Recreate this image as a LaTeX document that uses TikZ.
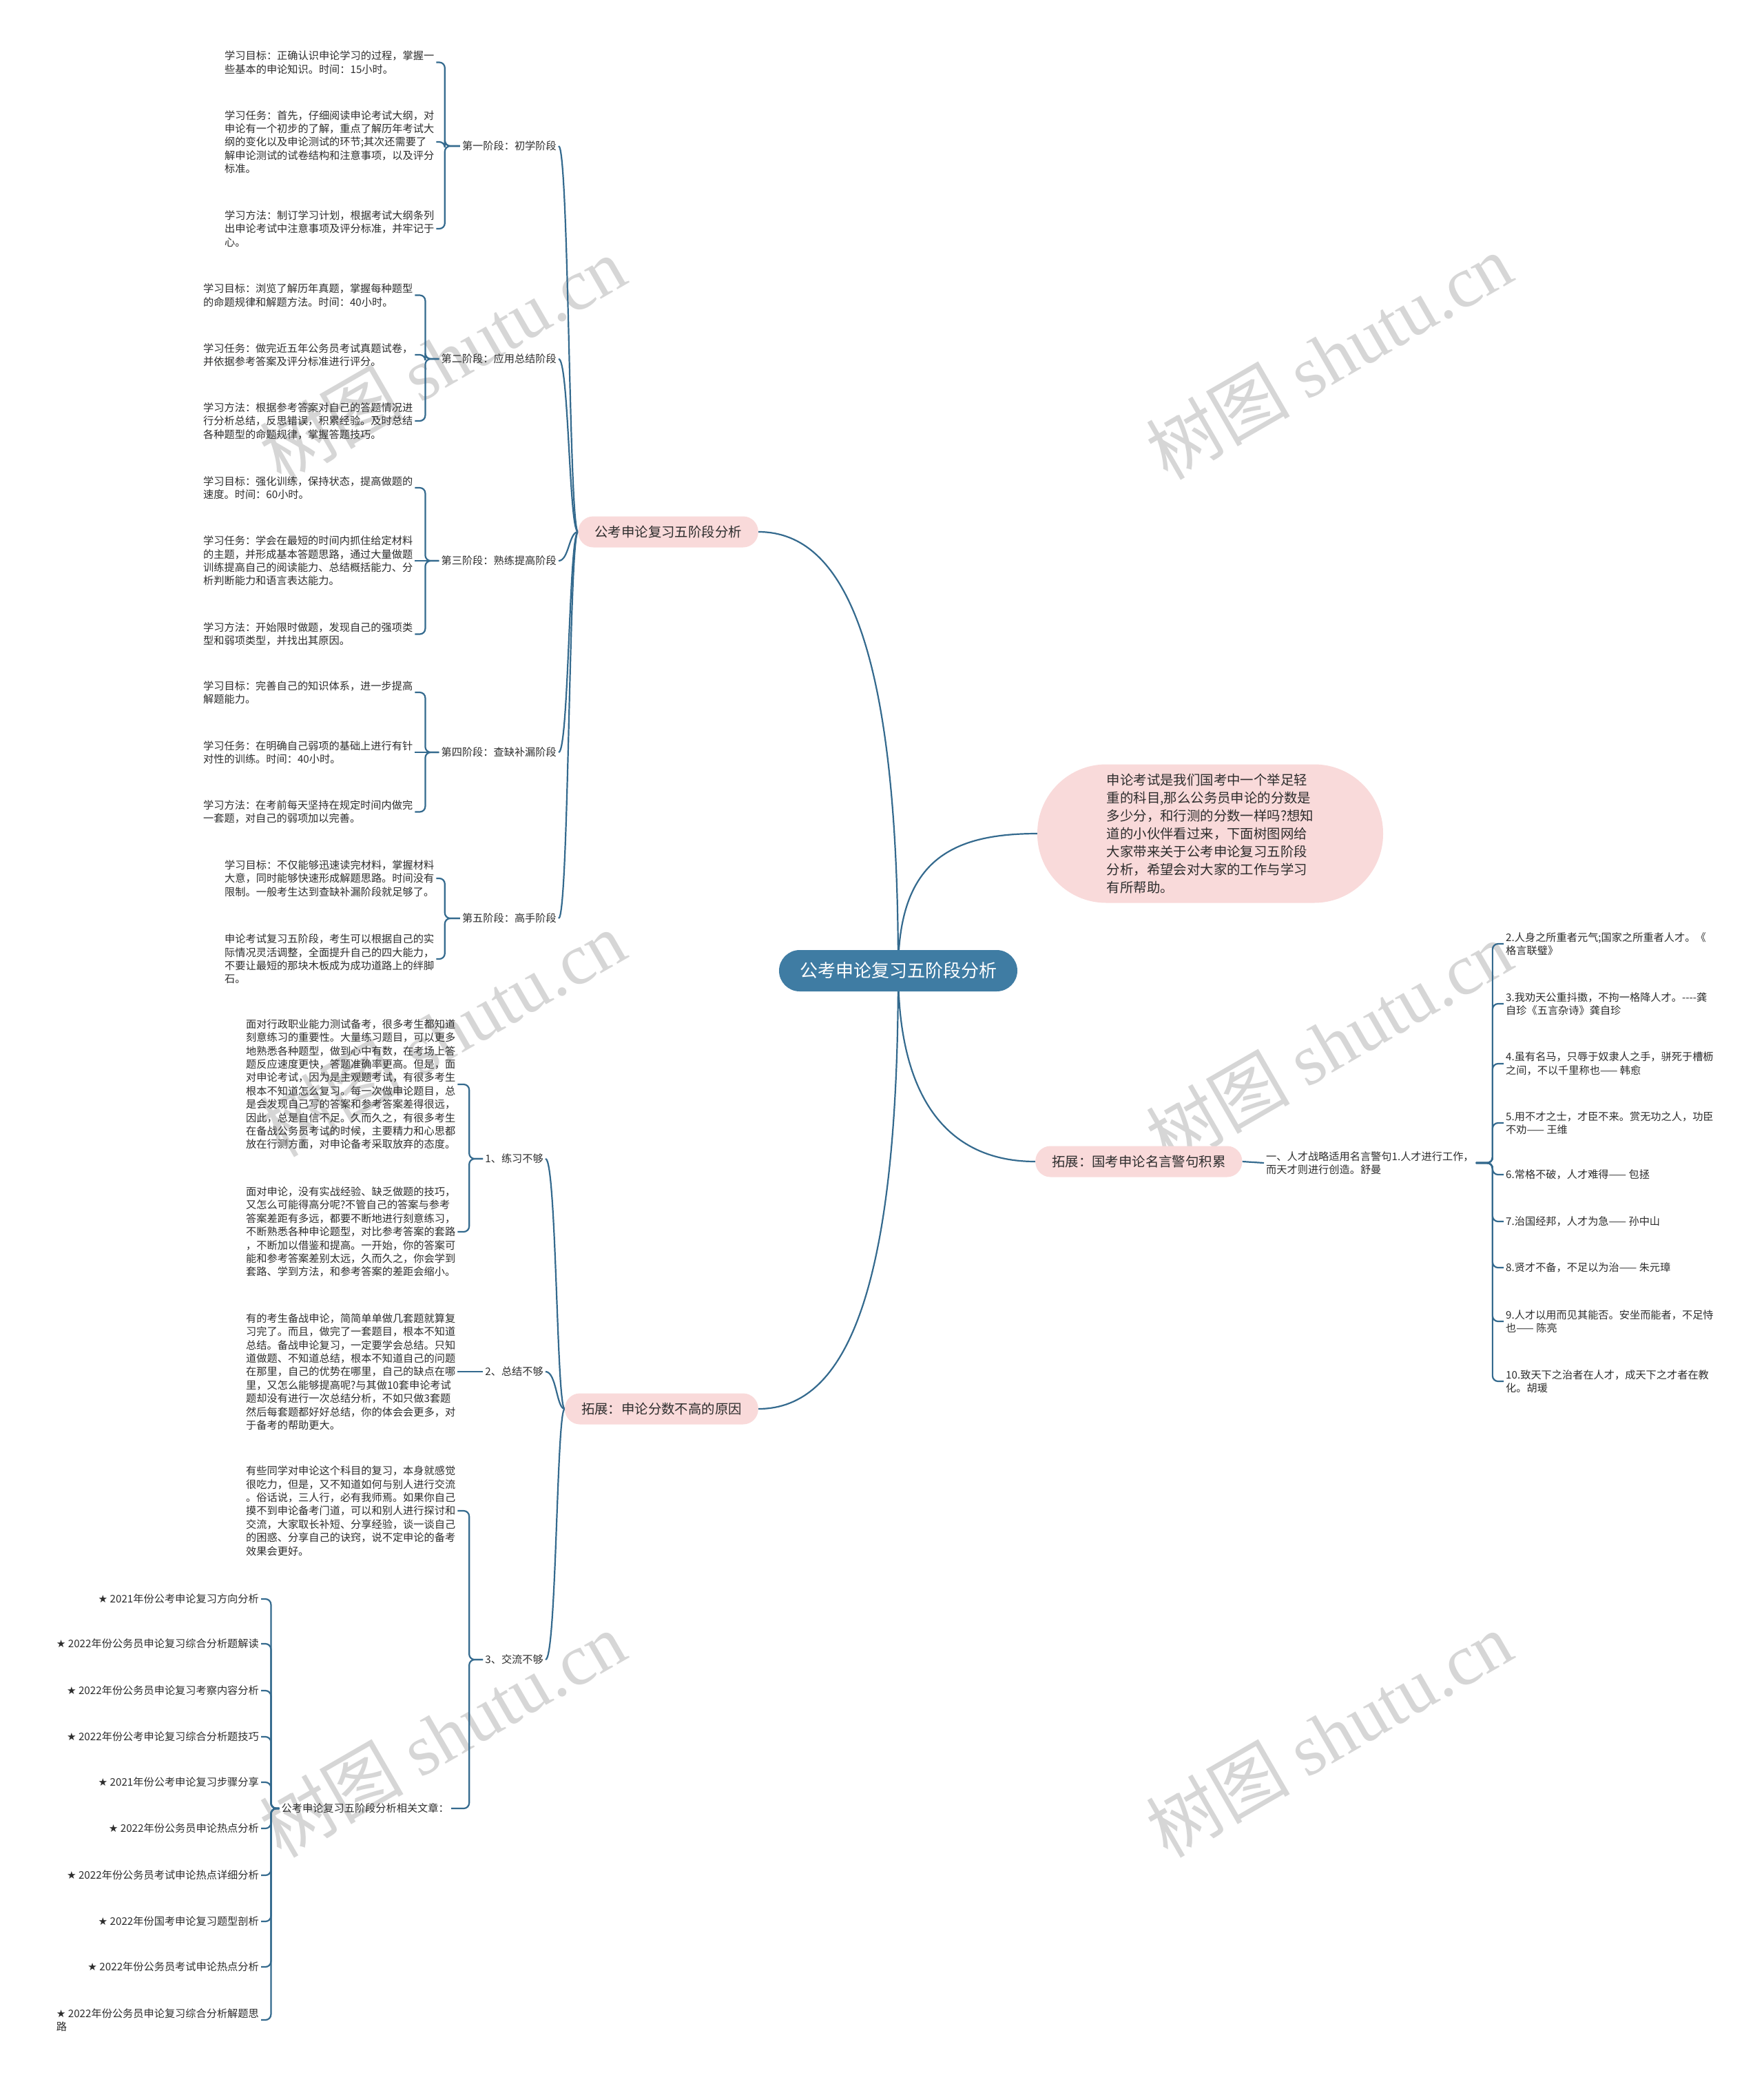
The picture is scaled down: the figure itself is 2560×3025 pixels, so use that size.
\documentclass[tikz,border=0pt]{standalone}
\usepackage{fontspec}
\setmainfont{Noto Sans CJK SC}
\newfontfamily\starfont{DejaVu Sans}
\newfontfamily\wmfont{Liberation Serif}
\usetikzlibrary{backgrounds}
\definecolor{linkblue}{RGB}{52,106,142}
\definecolor{rootblue}{RGB}{63,124,163}
\definecolor{pinkfill}{RGB}{249,218,218}
\definecolor{txtgray}{RGB}{45,45,45}
\definecolor{wmgray}{RGB}{214,214,214}
\newcommand{\fsmall}{\fontsize{15.2}{19.4}\selectfont}
\newcommand{\fmid}{\fontsize{19.4}{26}\selectfont}
\newcommand{\fbig}{\fontsize{26}{30}\selectfont}
\newcommand{\st}{{\starfont ★}}

\begin{document}
\begin{tikzpicture}[x=1pt,y=-1pt,
  link/.style={draw=linkblue, line width=2.2pt},
  bracket/.style={link, rounded corners=8pt},
  rootnode/.style={fill=rootblue, text=white, rounded corners=30pt, minimum height=60pt, inner xsep=30pt, font=\fbig},
  pinkbox/.style={fill=pinkfill, text=txtgray, rounded corners=22pt, minimum height=45pt, inner xsep=24pt, font=\fmid},
  para/.style={align=left, font=\fsmall, text=txtgray, inner sep=3pt, anchor=west},
  tag/.style={font=\fsmall, text=txtgray, inner sep=3pt},
  wm/.style={text=wmgray, font=\fontsize{105}{110}\selectfont, rotate=30}]
\useasboundingbox (0,0) rectangle (2560,3025);

\node[rootnode] (c) at (1304,1409) {公考申论复习五阶段分析};
\node[pinkbox, anchor=east] (b1) at (1101,772) {公考申论复习五阶段分析};
\node[pinkbox, rounded corners=100pt, minimum width=502pt, minimum height=201pt, align=left] (b2) at (1757,1210) {申论考试是我们国考中一个举足轻\\重的科目,那么公务员申论的分数是\\多少分，和行测的分数一样吗?想知\\道的小伙伴看过来，下面树图网给\\大家带来关于公考申论复习五阶段\\分析，希望会对大家的工作与学习\\有所帮助。};
\node[pinkbox, anchor=west] (b3) at (1503,1686) {拓展：国考申论名言警句积累};
\node[pinkbox, anchor=east] (b4) at (1101,2045) {拓展：申论分数不高的原因};

\node[tag, anchor=east] (s1) at (811,212) {第一阶段：初学阶段};
\node[tag, anchor=east] (s2) at (811,521) {第二阶段：应用总结阶段};
\node[tag, anchor=east] (s3) at (811,814) {第三阶段：熟练提高阶段};
\node[tag, anchor=east] (s4) at (811,1092) {第四阶段：查缺补漏阶段};
\node[tag, anchor=east] (s5) at (811,1333) {第五阶段：高手阶段};

\node[para] (t11) at (323,90.5) {学习目标：正确认识申论学习的过程，掌握一\\些基本的申论知识。时间：15小时。};
\node[para] (t12) at (323,206) {学习任务：首先，仔细阅读申论考试大纲，对\\申论有一个初步的了解，重点了解历年考试大\\纲的变化以及申论测试的环节;其次还需要了\\解申论测试的试卷结构和注意事项，以及评分\\标准。};
\node[para] (t13) at (323,332) {学习方法：制订学习计划，根据考试大纲条列\\出申论考试中注意事项及评分标准，并牢记于\\心。};
\node[para] (t21) at (292,428.5) {学习目标：浏览了解历年真题，掌握每种题型\\的命题规律和解题方法。时间：40小时。};
\node[para] (t22) at (292,515) {学习任务：做完近五年公务员考试真题试卷，\\并依据参考答案及评分标准进行评分。};
\node[para] (t23) at (292,611) {学习方法：根据参考答案对自己的答题情况进\\行分析总结，反思错误，积累经验。及时总结\\各种题型的命题规律，掌握答题技巧。};
\node[para] (t31) at (292,708) {学习目标：强化训练，保持状态，提高做题的\\速度。时间：60小时。};
\node[para] (t32) at (292,814) {学习任务：学会在最短的时间内抓住给定材料\\的主题，并形成基本答题思路，通过大量做题\\训练提高自己的阅读能力、总结概括能力、分\\析判断能力和语言表达能力。};
\node[para] (t33) at (292,920.5) {学习方法：开始限时做题，发现自己的强项类\\型和弱项类型，并找出其原因。};
\node[para] (t41) at (292,1005) {学习目标：完善自己的知识体系，进一步提高\\解题能力。};
\node[para] (t42) at (292,1092) {学习任务：在明确自己弱项的基础上进行有针\\对性的训练。时间：40小时。};
\node[para] (t43) at (292,1178.5) {学习方法：在考前每天坚持在规定时间内做完\\一套题，对自己的弱项加以完善。};
\node[para] (t51) at (323,1275) {学习目标：不仅能够迅速读完材料，掌握材料\\大意，同时能够快速形成解题思路。时间没有\\限制。一般考生达到查缺补漏阶段就足够了。};
\node[para] (t52) at (323,1392) {申论考试复习五阶段，考生可以根据自己的实\\际情况灵活调整，全面提升自己的四大能力，\\不要让最短的那块木板成为成功道路上的绊脚\\石。};

\node[tag, anchor=east] (l1) at (792,1682) {1、练习不够};
\node[tag, anchor=east] (l2) at (792,1991) {2、总结不够};
\node[tag, anchor=east] (l3) at (792,2409) {3、交流不够};
\node[para] (pa) at (354,1574) {面对行政职业能力测试备考，很多考生都知道\\刻意练习的重要性。大量练习题目，可以更多\\地熟悉各种题型，做到心中有数，在考场上答\\题反应速度更快，答题准确率更高。但是，面\\对申论考试，因为是主观题考试，有很多考生\\根本不知道怎么复习。每一次做申论题目，总\\是会发现自己写的答案和参考答案差得很远，\\因此，总是自信不足。久而久之，有很多考生\\在备战公务员考试的时候，主要精力和心思都\\放在行测方面，对申论备考采取放弃的态度。};
\node[para] (pb) at (354,1788) {面对申论，没有实战经验、缺乏做题的技巧，\\又怎么可能得高分呢?不管自己的答案与参考\\答案差距有多远，都要不断地进行刻意练习，\\不断熟悉各种申论题型，对比参考答案的套路\\，不断加以借鉴和提高。一开始，你的答案可\\能和参考答案差别太远，久而久之，你会学到\\套路、学到方法，和参考答案的差距会缩小。};
\node[para] (pc) at (354,1991) {有的考生备战申论，简简单单做几套题就算复\\习完了。而且，做完了一套题目，根本不知道\\总结。备战申论复习，一定要学会总结。只知\\道做题、不知道总结，根本不知道自己的问题\\在那里，自己的优势在哪里，自己的缺点在哪\\里，又怎么能够提高呢?与其做10套申论考试\\题却没有进行一次总结分析，不如只做3套题\\然后每套题都好好总结，你的体会会更多，对\\于备考的帮助更大。};
\node[para] (pd) at (354,2193) {有些同学对申论这个科目的复习，本身就感觉\\很吃力，但是，又不知道如何与别人进行交流\\。俗话说，三人行，必有我师焉。如果你自己\\摸不到申论备考门道，可以和别人进行探讨和\\交流，大家取长补短、分享经验，谈一谈自己\\的困惑、分享自己的诀窍，说不定申论的备考\\效果会更好。};
\node[tag, anchor=east] (rel) at (655,2625) {公考申论复习五阶段分析相关文章：};

\node[tag, anchor=east] (a1) at (379,2321) {\st\ 2021年份公考申论复习方向分析};
\node[tag, anchor=east] (a2) at (379,2386) {\st\ 2022年份公务员申论复习综合分析题解读};
\node[tag, anchor=east] (a3) at (379,2454) {\st\ 2022年份公务员申论复习考察内容分析};
\node[tag, anchor=east] (a4) at (379,2521) {\st\ 2022年份公考申论复习综合分析题技巧};
\node[tag, anchor=east] (a5) at (379,2587) {\st\ 2021年份公考申论复习步骤分享};
\node[tag, anchor=east] (a6) at (379,2654) {\st\ 2022年份公务员申论热点分析};
\node[tag, anchor=east] (a7) at (379,2722) {\st\ 2022年份公务员考试申论热点详细分析};
\node[tag, anchor=east] (a8) at (379,2789) {\st\ 2022年份国考申论复习题型剖析};
\node[tag, anchor=east] (a9) at (379,2855) {\st\ 2022年份公务员考试申论热点分析};
\node[tag, anchor=east, align=left] (a10) at (379,2932) {\st\ 2022年份公务员申论复习综合分析解题思\\路};

\node[para] (r1) at (1835,1688) {一、人才战略适用名言警句1.人才进行工作，\\而天才则进行创造。舒曼};
\node[para] (q2) at (2183,1370) {2.人身之所重者元气;国家之所重者人才。《\\格言联璧》};
\node[para] (q3) at (2183,1457) {3.我劝天公重抖擞，不拘一格降人才。-{}-{}-{}-龚\\自珍《五言杂诗》龚自珍};
\node[para] (q4) at (2183,1544) {4.虽有名马，只辱于奴隶人之手，骈死于槽枥\\之间，不以千里称也—— 韩愈};
\node[para] (q5) at (2183,1630) {5.用不才之士，才臣不来。赏无功之人，功臣\\不劝—— 王维};
\node[para] (q6) at (2183,1705) {6.常格不破，人才难得—— 包拯};
\node[para] (q7) at (2183,1773) {7.治国经邦，人才为急—— 孙中山};
\node[para] (q8) at (2183,1840) {8.贤才不备，不足以为治—— 朱元璋};
\node[para] (q9) at (2183,1918) {9.人才以用而见其能否。安坐而能者，不足恃\\也—— 陈亮};
\node[para] (q10) at (2183,2005) {10.致天下之治者在人才，成天下之才者在教\\化。胡瑗};

\coordinate (v1) at (826,0);
\coordinate (v4) at (808,0);

\begin{scope}[on background layer]
\fill[white] (0,0) rectangle (2560,3025);
\node[wm] at (642,521) {树图 {\wmfont shutu.cn}};
\node[wm] at (1929,517) {树图 {\wmfont shutu.cn}};
\node[wm] at (642,1500) {树图 {\wmfont shutu.cn}};
\node[wm] at (1929,1515) {树图 {\wmfont shutu.cn}};
\node[wm] at (642,2517) {树图 {\wmfont shutu.cn}};
\node[wm] at (1929,2517) {树图 {\wmfont shutu.cn}};

\draw[link] (c.center) .. controls (1304,950) and (1230,772) .. (b1.east);
\draw[link] (c.center) .. controls (1304,1250) and (1380,1210) .. (b2.west);
\draw[link] (c.center) .. controls (1304,1600) and (1380,1686) .. (b3.west);
\draw[link] (c.center) .. controls (1304,1870) and (1230,2045) .. (b4.east);

\draw[link] (b1.west) .. controls (b1.west -| v1) and (s1.east -| v1) .. (s1.east);
\draw[link] (b1.west) .. controls (b1.west -| v1) and (s2.east -| v1) .. (s2.east);
\draw[link] (b1.west) .. controls (b1.west -| v1) and (s3.east -| v1) .. (s3.east);
\draw[link] (b1.west) .. controls (b1.west -| v1) and (s4.east -| v1) .. (s4.east);
\draw[link] (b1.west) .. controls (b1.west -| v1) and (s5.east -| v1) .. (s5.east);

\draw[bracket] (s1.west) -- ++(-22,0) |- (t11.east);
\draw[bracket] (s1.west) -- ++(-22,0) |- (t12.east);
\draw[bracket] (s1.west) -- ++(-22,0) |- (t13.east);
\draw[bracket] (s2.west) -- ++(-20,0) |- (t21.east);
\draw[bracket] (s2.west) -- ++(-20,0) |- (t22.east);
\draw[bracket] (s2.west) -- ++(-20,0) |- (t23.east);
\draw[bracket] (s3.west) -- ++(-20,0) |- (t31.east);
\draw[link] (s3.west) -- (t32.east);
\draw[bracket] (s3.west) -- ++(-20,0) |- (t33.east);
\draw[bracket] (s4.west) -- ++(-20,0) |- (t41.east);
\draw[link] (s4.west) -- (t42.east);
\draw[bracket] (s4.west) -- ++(-20,0) |- (t43.east);
\draw[bracket] (s5.west) -- ++(-22,0) |- (t51.east);
\draw[bracket] (s5.west) -- ++(-22,0) |- (t52.east);

\draw[link] (b4.west) .. controls (b4.west -| v4) and (l1.east -| v4) .. (l1.east);
\draw[link] (b4.west) .. controls (b4.west -| v4) and (l2.east -| v4) .. (l2.east);
\draw[link] (b4.west) .. controls (b4.west -| v4) and (l3.east -| v4) .. (l3.east);

\draw[bracket] (l1.west) -- ++(-20,0) |- (pa.east);
\draw[bracket] (l1.west) -- ++(-20,0) |- (pb.east);
\draw[link] (l2.west) -- (pc.east);
\draw[bracket] (l3.west) -- ++(-20,0) |- (pd.east);
\draw[bracket] (l3.west) -- ++(-20,0) |- (rel.east);

\draw[bracket] (rel.west) -- ++(-12,0) |- (a1.east);
\draw[bracket] (rel.west) -- ++(-12,0) |- (a2.east);
\draw[bracket] (rel.west) -- ++(-12,0) |- (a3.east);
\draw[bracket] (rel.west) -- ++(-12,0) |- (a4.east);
\draw[bracket] (rel.west) -- ++(-12,0) |- (a5.east);
\draw[bracket] (rel.west) -- ++(-12,0) |- (a6.east);
\draw[bracket] (rel.west) -- ++(-12,0) |- (a7.east);
\draw[bracket] (rel.west) -- ++(-12,0) |- (a8.east);
\draw[bracket] (rel.west) -- ++(-12,0) |- (a9.east);
\draw[bracket] (rel.west) -- ++(-12,0) |- (a10.east);

\draw[link] (b3.east) -- (r1.west);
\draw[bracket] (r1.east) -- ++(24,0) |- (q2.west);
\draw[bracket] (r1.east) -- ++(24,0) |- (q3.west);
\draw[bracket] (r1.east) -- ++(24,0) |- (q4.west);
\draw[bracket] (r1.east) -- ++(24,0) |- (q5.west);
\draw[bracket] (r1.east) -- ++(24,0) |- (q6.west);
\draw[bracket] (r1.east) -- ++(24,0) |- (q7.west);
\draw[bracket] (r1.east) -- ++(24,0) |- (q8.west);
\draw[bracket] (r1.east) -- ++(24,0) |- (q9.west);
\draw[bracket] (r1.east) -- ++(24,0) |- (q10.west);
\end{scope}
\end{tikzpicture}
\end{document}
